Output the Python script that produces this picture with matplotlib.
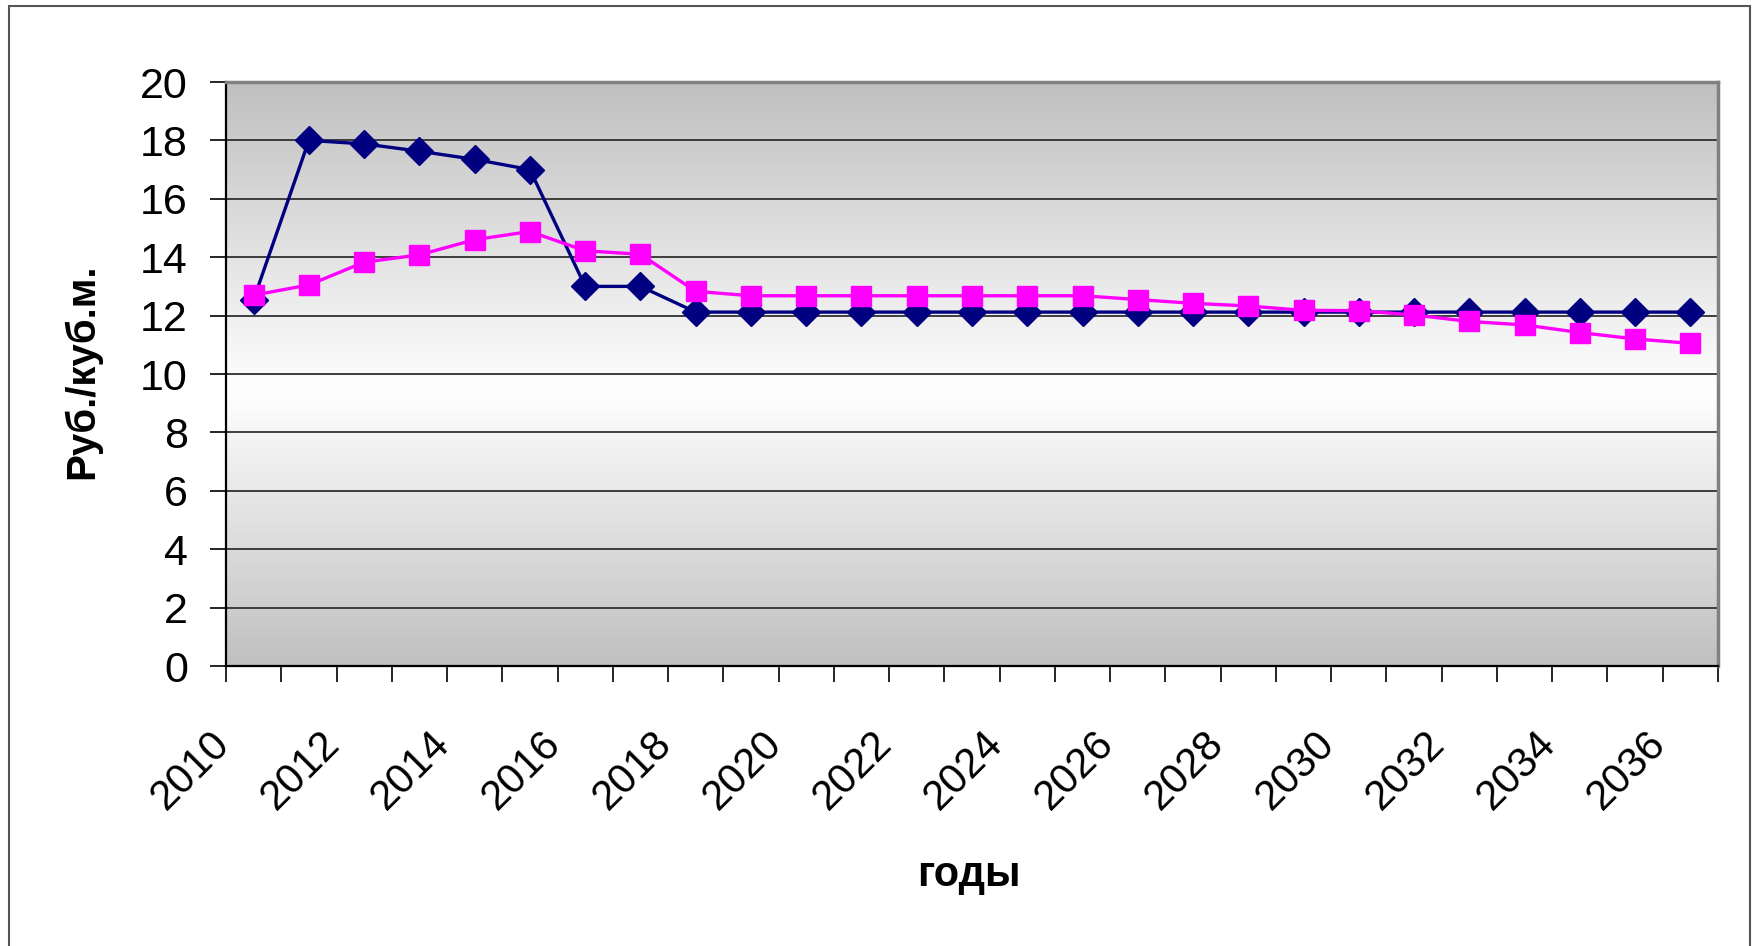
import numpy as np
import matplotlib
matplotlib.use("Agg")
import matplotlib.pyplot as plt
import matplotlib.transforms as mtransforms
from matplotlib.colors import LinearSegmentedColormap
from matplotlib.patches import Rectangle

years = list(range(2010, 2037))
blue_vals = [12.55, 18.0, 17.88, 17.63, 17.35, 17.0, 13.0, 13.0,
             12.12, 12.12, 12.12, 12.12, 12.12, 12.12, 12.12, 12.12,
             12.12, 12.12, 12.12, 12.12, 12.12, 12.12, 12.12, 12.12,
             12.12, 12.12, 12.12]
pink_vals = [12.7, 13.05, 13.83, 14.08, 14.6, 14.88, 14.22, 14.1,
             12.83, 12.68, 12.68, 12.68, 12.68, 12.68, 12.68, 12.68,
             12.55, 12.42, 12.33, 12.18, 12.17, 12.02, 11.8, 11.68,
             11.42, 11.2, 11.05]
y_ticks = list(range(0, 21, 2))
y_label = "Руб./куб.м."
x_label = "годы"

plt.rcParams["font.family"] = ["Liberation Sans", "DejaVu Sans"]

W, H = 1757, 946
fig = plt.figure(figsize=(W / 100, H / 100), dpi=100)
ax = fig.add_axes([226 / W, 1 - 666 / H, (1718 - 226) / W, (666 - 82) / H])

# gray - white - gray vertical gradient behind the plot
cmap = LinearSegmentedColormap.from_list("g", ["#ffffff", "#c0c0c0"])
t = np.linspace(0, 1, 256)
grad = np.where(t < 0.47, (0.47 - t) / 0.47, (t - 0.47) / 0.53).reshape(-1, 1)
ax.imshow(grad, extent=[0, 1, 1, 0], transform=ax.transAxes, aspect="auto",
          cmap=cmap, vmin=0, vmax=1, zorder=0, interpolation="bilinear")

x = np.arange(len(years))
ax.plot(x, blue_vals, color="#000080", lw=2.4, marker="D", ms=14,
        zorder=3, clip_on=False)
ax.plot(x, pink_vals, color="#ff00ff", lw=2.4, marker="s", ms=15,
        zorder=4, clip_on=False)

ax.set_xlim(-0.5, len(years) - 0.5)
ax.set_ylim(0, 20)
ax.set_yticks(y_ticks)
ax.set_yticklabels([str(v) for v in y_ticks])

bounds = np.arange(len(years) + 1) - 0.5
labels = [str(years[k]) if k < len(years) and k % 2 == 0 else "" for k in range(len(bounds))]
ax.set_xticks(bounds)
ax.set_xticklabels(labels, rotation=45, ha="right", rotation_mode="anchor")

ax.tick_params(axis="y", direction="out", length=11.5, width=1.2, pad=16, labelsize=31)
ax.tick_params(axis="x", direction="out", length=11.5, width=1.2, pad=30, labelsize=30)

# nudge the rotated year labels to the left, as in the original
shift = mtransforms.ScaledTranslation(-17 / 100, 0, fig.dpi_scale_trans)
for tick in ax.xaxis.get_major_ticks():
    tick.label1.set_transform(tick.label1.get_transform() + shift)

ax.set_axisbelow(True)
ax.yaxis.grid(True, color="#303030", lw=1.3)
ax.xaxis.grid(False)

for s in ["left", "bottom"]:
    ax.spines[s].set_color("black")
    ax.spines[s].set_linewidth(1.6)
for s in ["top", "right"]:
    ax.spines[s].set_color("#808080")
    ax.spines[s].set_linewidth(2.5)

fig.text(82 / W, 1 - 371 / H, y_label, rotation=90, ha="center", va="center",
         fontsize=29, fontweight="bold")
fig.text(969 / W, 1 - 875 / H, x_label, ha="center", va="center",
         fontsize=30, fontweight="bold")

# outer chart frame (bottom edge is cut off in the original)
fig.patches.append(Rectangle((9 / W, -0.05), (1750 - 9) / W, 1.05 - 6 / H,
                             transform=fig.transFigure, fill=False,
                             edgecolor="#555555", lw=1.5))

fig.savefig("out.png", dpi=100)
